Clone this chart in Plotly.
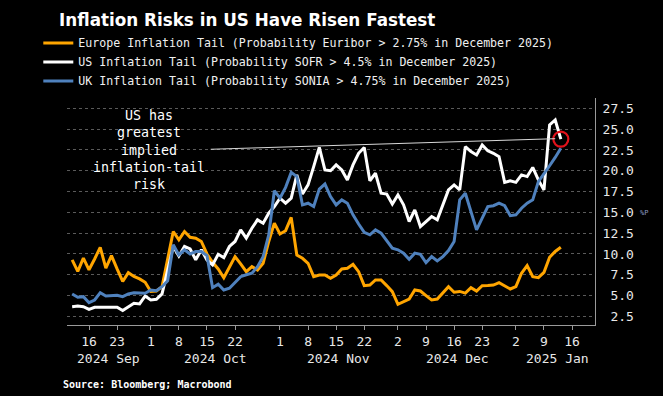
import pandas as pd
import plotly.graph_objects as go

# ---------------- data ----------------
holidays = ["2024-12-25", "2025-01-01"]
dates = [d.strftime("%Y-%m-%d") for d in
         pd.bdate_range("2024-09-11", "2025-01-14", freq="C", holidays=holidays)]

europe = [9.3, 7.9, 9.5, 8.1, 9.4, 10.8, 8.3, 9.8, 8.2, 6.7, 7.75, 7.3, 7.0, 6.6,
          5.5, 5.55, 6.07, 9.2, 12.7, 11.7, 12.7, 12.0, 11.9, 11.5, 10.0, 9.0, 8.2, 7.15,
          8.4, 9.68, 8.8, 7.87, 8.47, 8.08, 8.88, 11.5, 13.7,
          12.4, 12.8, 14.4, 9.88, 9.48, 8.88, 7.27, 7.48, 7.48, 7.08, 7.48, 8.2, 8.28,
          8.76, 7.87, 6.19, 6.27, 6.88, 6.88, 6.2, 5.47,
          3.95, 4.27, 4.59, 5.67, 5.55, 5.0, 4.47, 4.59, 5.3, 6.07, 5.4, 5.5, 5.3, 5.95,
          5.55, 6.19, 6.2, 6.27, 6.55, 6.19, 5.79,
          6.07, 7.68, 8.6, 7.27, 7.15, 7.8, 9.6, 10.3, 10.8]

us = [3.67, 3.75, 3.67, 3.35, 3.6, 3.6, 3.6, 3.6, 3.6, 3.2, 3.6, 4.07, 4.0, 4.95,
      4.47, 4.55, 5.2, 8.0, 10.9, 9.76, 10.9, 10.6, 9.3, 10.5, 9.28, 8.68, 9.96, 9.56,
      10.9, 11.5, 12.9, 11.9, 13.1, 14.1, 13.7, 14.9, 15.7,
      16.7, 16.1, 16.7, 19.5, 17.2, 18.3, 20.5, 22.8, 20.1, 20.0, 20.7, 20.1, 18.9,
      20.7, 22.1, 22.8, 18.8, 19.7, 17.3, 17.2, 16.0,
      17.1, 15.9, 13.9, 15.3, 13.3, 13.9, 14.5, 14.1, 15.9, 17.7, 18.3, 17.7, 22.9, 22.3,
      21.9, 23.1, 22.4, 22.1, 21.7, 18.6, 18.8,
      18.6, 19.5, 19.3, 20.4, 18.9, 17.7, 25.5, 26.1, 23.8]

uk = [5.2, 4.8, 4.87, 4.15, 4.47, 5.35, 4.95, 5.0, 5.04, 4.87, 5.2, 5.35, 5.3, 5.28,
      5.67, 5.59, 6.07, 6.79, 11.1, 9.88, 10.5, 10.0, 10.3, 10.3, 9.8, 5.95, 6.36, 5.67,
      5.88, 6.6, 7.27, 7.5, 7.68, 8.47, 9.68, 12.3, 17.6,
      16.7, 18.0, 19.8, 19.3, 15.9, 16.1, 15.7, 17.8, 18.4, 16.9, 15.9, 16.5, 16.1,
      14.7, 13.6, 12.6, 12.3, 12.9, 12.5, 11.6, 10.7,
      10.5, 10.1, 9.36, 10.1, 9.96, 8.95, 9.68, 9.16, 9.68, 10.4, 11.5, 16.5, 17.3, 15.1,
      12.9, 14.3, 15.7, 15.8, 16.1, 15.8, 14.6,
      14.7, 15.5, 16.1, 16.5, 18.7, 19.6, 20.6, 21.6, 22.7]

assert len(dates) == len(europe) == len(us) == len(uk)

series_names = [
    "Europe Inflation Tail (Probability Euribor > 2.75% in December 2025)",
    "US Inflation Tail (Probability SOFR > 4.5% in December 2025)",
    "UK Inflation Tail (Probability SONIA > 4.75% in December 2025)",
]
series_colors = ["#FFA500", "#FFFFFF", "#4F81BD"]

tick_dates = ["2024-09-16", "2024-09-23", "2024-10-01", "2024-10-08", "2024-10-15",
              "2024-10-22", "2024-11-01", "2024-11-08", "2024-11-15", "2024-11-22",
              "2024-12-02", "2024-12-09", "2024-12-16", "2024-12-23", "2025-01-02",
              "2025-01-09", "2025-01-16"]
tick_text = ["16", "23", "1", "8", "15", "22", "1", "8", "15", "22",
             "2", "9", "16", "23", "2", "9", "16"]
month_labels = ["2024 Sep", "2024 Oct", "2024 Nov", "2024 Dec", "2025 Jan"]
month_pos = ["2024-09-19 12:00", "2024-10-16 14:00", "2024-11-15 12:00",
             "2024-12-16 16:00", "2025-01-13 08:00"]
y_ticks = [2.5, 5.0, 7.5, 10.0, 12.5, 15.0, 17.5, 20.0, 22.5, 25.0, 27.5]

title = "Inflation Risks in US Have Risen Fastest"
note = "US has<br>greatest<br>implied<br>inflation-tail<br>risk"
source = "Source: Bloomberg; Macrobond"

MONO = "DejaVu Sans Mono"

# plot area in pixels (for paper-coordinate conversions)
L, R, T, B = 67, 595, 98, 325
def px(xp):
    return (xp - L) / (R - L)
def py(yp):
    return (B - yp) / (B - T)

# ---------------- figure ----------------
fig = go.Figure()
for name, vals, col in zip(series_names, [europe, us, uk], series_colors):
    fig.add_trace(go.Scatter(x=dates, y=vals, name=name, mode="lines",
                             line=dict(color=col, width=3)))

# red highlight ring on the latest US value
fig.add_trace(go.Scatter(x=[dates[-1]], y=[us[-1]], mode="markers", showlegend=False,
                         hoverinfo="skip",
                         marker=dict(symbol="circle-open", size=15,
                                     line=dict(color="#E3121B", width=2.2),
                                     color="#E3121B")))

fig.add_shape(type="line", xref="x", yref="y",
              x0="2024-10-15 16:00", y0=22.58, x1="2025-01-13", y1=23.85,
              line=dict(color="#D8D8D8", width=1))

fig.add_annotation(text=note, xref="paper", yref="paper", x=px(149), y=py(150),
                   showarrow=False, align="center", xanchor="center", yanchor="middle",
                   font=dict(family=MONO, size=13.3, color="#FFFFFF"))

for lab, pos in zip(month_labels, month_pos):
    fig.add_annotation(text=lab, x=pos, xref="x", yref="paper", y=py(358),
                       showarrow=False, xanchor="center", yanchor="middle",
                       font=dict(family=MONO, size=13, color="#E8E8E8"))

fig.add_annotation(text="<b>" + source + "</b>", xref="paper", yref="paper",
                   x=px(61), y=py(384), xanchor="left", yanchor="middle",
                   showarrow=False, font=dict(family=MONO, size=10, color="#FFFFFF"))

fig.add_annotation(text="%P", xref="paper", yref="paper",
                   x=px(638), y=py(213), xanchor="left", yanchor="middle",
                   showarrow=False, font=dict(family=MONO, size=7, color="#8E9AC0"))

fig.update_layout(
    width=663, height=396,
    margin=dict(l=L, r=663 - R, t=T, b=396 - B, autoexpand=False),
    paper_bgcolor="#000000", plot_bgcolor="#000000",
    title=dict(text="<b>" + title + "</b>", xref="container", yref="container",
               x=59 / 663, y=1 - 20 / 396, xanchor="left", yanchor="middle",
               font=dict(family="DejaVu Sans", size=16.8, color="#FFFFFF")),
    legend=dict(xref="container", yref="container", x=38.3 / 663, y=1 - 28.4 / 396,
                xanchor="left", yanchor="top", bgcolor="rgba(0,0,0,0)",
                font=dict(family=MONO, size=11.6, color="#F0F0F0"),
                tracegroupgap=0),
    showlegend=True,
    hovermode=False,
    xaxis=dict(
        type="date",
        range=["2024-09-10 02:00", "2025-01-22 02:00"],
        rangebreaks=[dict(bounds=["sat", "mon"]), dict(values=holidays)],
        tickvals=tick_dates, ticktext=tick_text,
        ticks="outside", ticklen=4, tickcolor="#9A9A9A",
        tickfont=dict(family=MONO, size=13, color="#E8E8E8"),
        showline=True, linecolor="#9A9A9A", linewidth=1,
        showgrid=False, zeroline=False,
    ),
    yaxis=dict(
        side="right",
        range=[1.466, 28.74],
        tickvals=y_ticks,
        ticktext=[f"{v:.1f}".rjust(4, "\u00a0") for v in y_ticks],
        ticks="", ticklabelstandoff=4,
        tickfont=dict(family=MONO, size=13, color="#E8E8E8"),
        showline=True, linecolor="#9A9A9A", linewidth=1,
        showgrid=True, gridcolor="#5A5A5A", gridwidth=1, griddash="dot",
        zeroline=False,
    ),
)

fig.write_html("out.html",
               config={"displayModeBar": False},
               post_script="document.body.style.margin='0';"
                           "document.body.style.padding='0';"
                           "document.body.style.background='#000';")
